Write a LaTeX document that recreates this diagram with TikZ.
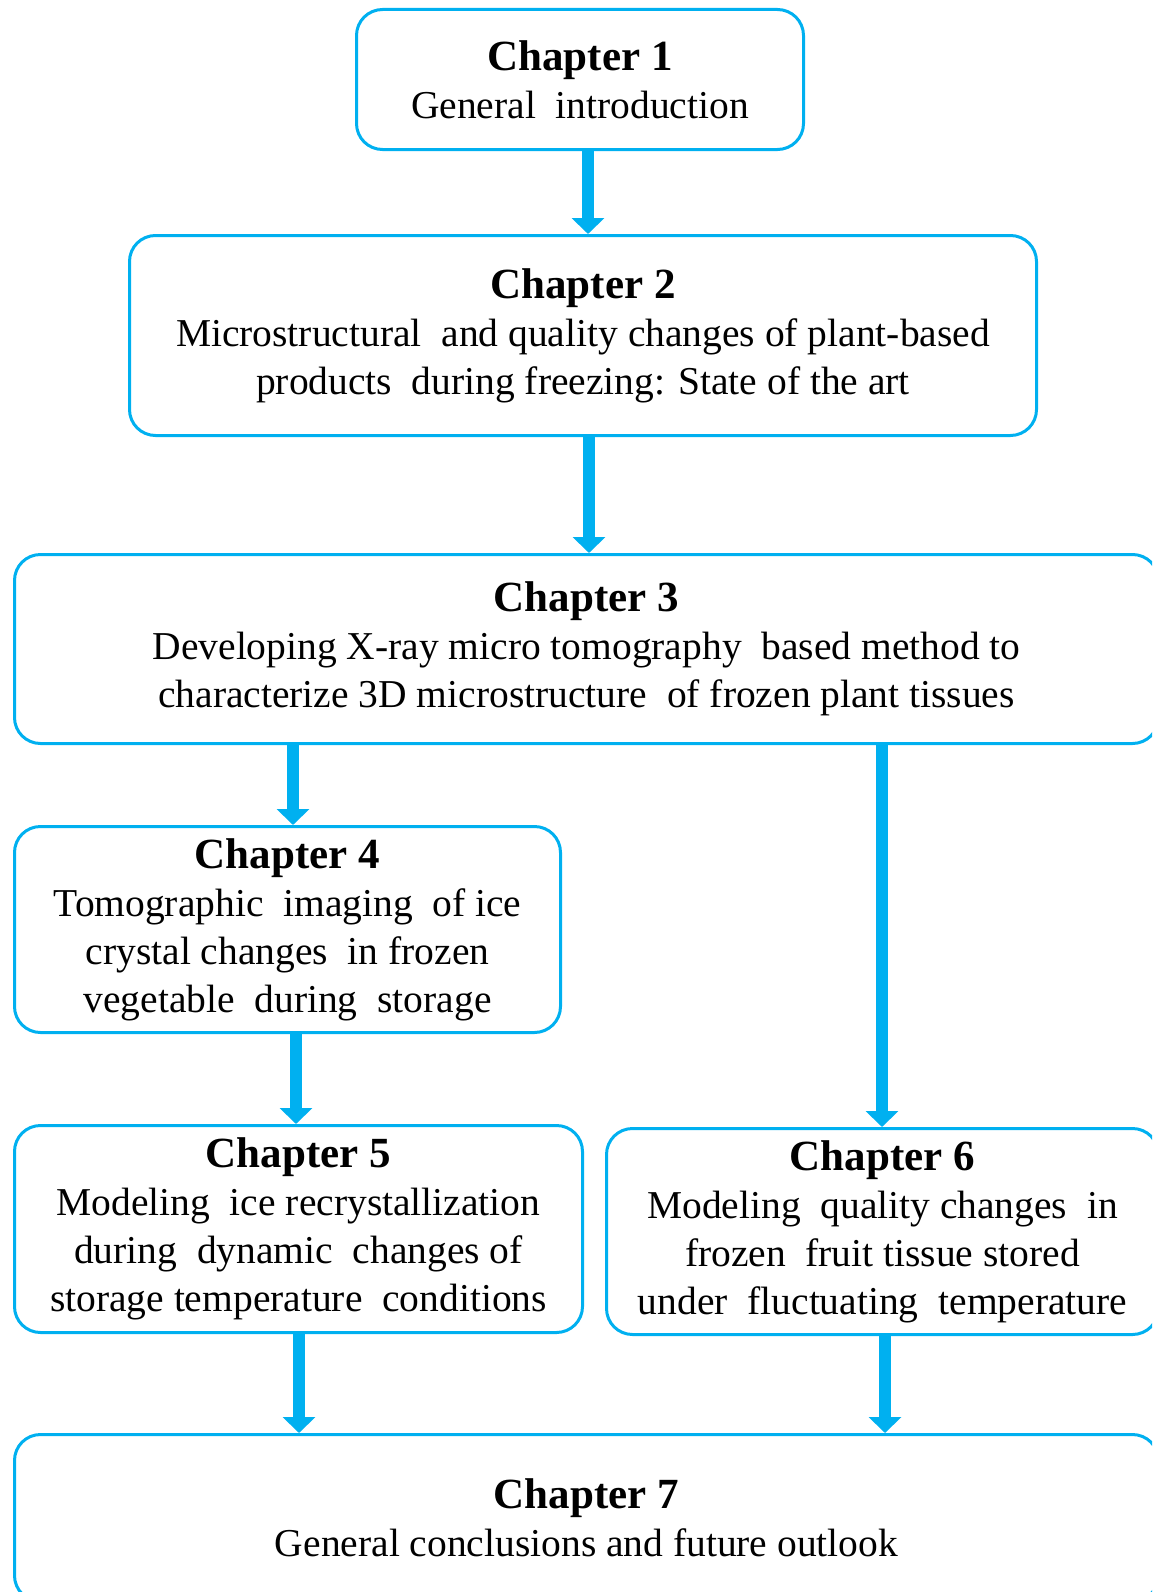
\documentclass[tikz,border=0pt]{standalone}
\usepackage{fontspec}
\setmainfont{Liberation Serif}
\usetikzlibrary{arrows.meta}
\definecolor{bblue}{HTML}{00B0F0}
\tikzset{
  chapbox/.style={draw=bblue, line width=3pt, rounded corners=26pt, fill=white,
    anchor=north west, inner sep=0pt, align=center,
    font=\fontsize{39.5}{48}\selectfont},
  arr/.style={draw=bblue, line width=12pt,
    -{Triangle[width=32pt,length=16pt]}},
}
\newcommand{\chap}[1]{{\fontsize{43}{48}\selectfont\bfseries #1}}
\begin{document}
\begin{tikzpicture}[x=1pt,y=-1pt]
\useasboundingbox (0,0) rectangle (1152,1592);
\clip (0,0) rectangle (1152,1592);
\node[chapbox, minimum width=447pt, minimum height=140pt] (b1) at (355,8)
  {\chap{Chapter 1}\\General\ \ introduction};
\node[chapbox, minimum width=907pt, minimum height=200pt] (b2) at (128,234)
  {\chap{Chapter 2}\\Microstructural\ \ and quality changes of plant-based\\products\ \ during freezing: State of the art};
\node[chapbox, minimum width=1144pt, minimum height=189pt] (b3) at (13,553)
  {\chap{Chapter 3}\\Developing X-ray micro tomography\ \ based method to\\characterize 3D microstructure\ \ of frozen plant tissues};
\node[chapbox, minimum width=546pt, minimum height=206pt] (b4) at (13,825)
  {\chap{Chapter 4}\\Tomographic\ \ imaging\ \ of ice\\crystal changes\ \ in frozen\\vegetable\ \ during\ \ storage};
\node[chapbox, minimum width=568pt, minimum height=207pt] (b5) at (13,1124)
  {\chap{Chapter 5}\\Modeling\ \ ice recrystallization\\during\ \ dynamic\ \ changes of\\storage temperature\ \ conditions};
\node[chapbox, minimum width=552pt, minimum height=206pt] (b6) at (605,1127)
  {\chap{Chapter 6}\\Modeling\ \ quality changes\ \ in\\frozen\ \ fruit tissue stored\\under\ \ fluctuating\ \ temperature};
\node[chapbox, minimum width=1144pt, minimum height=167pt] (b7) at (13,1433)
  {\chap{Chapter 7}\\General conclusions and future outlook};
\coordinate (x12) at (588,0);
\coordinate (x23) at (589,0);
\coordinate (x34) at (293,0);
\coordinate (x36) at (882,0);
\coordinate (x45) at (296,0);
\coordinate (x57) at (299,0);
\coordinate (x67) at (885,0);
\draw[arr] (b1.south -| x12) -- (b2.north -| x12);
\draw[arr] (b2.south -| x23) -- (b3.north -| x23);
\draw[arr] (b3.south -| x34) -- (b4.north -| x34);
\draw[arr] (b3.south -| x36) -- (b6.north -| x36);
\draw[arr] (b4.south -| x45) -- (b5.north -| x45);
\draw[arr] (b5.south -| x57) -- (b7.north -| x57);
\draw[arr] (b6.south -| x67) -- (b7.north -| x67);
\end{tikzpicture}
\end{document}
